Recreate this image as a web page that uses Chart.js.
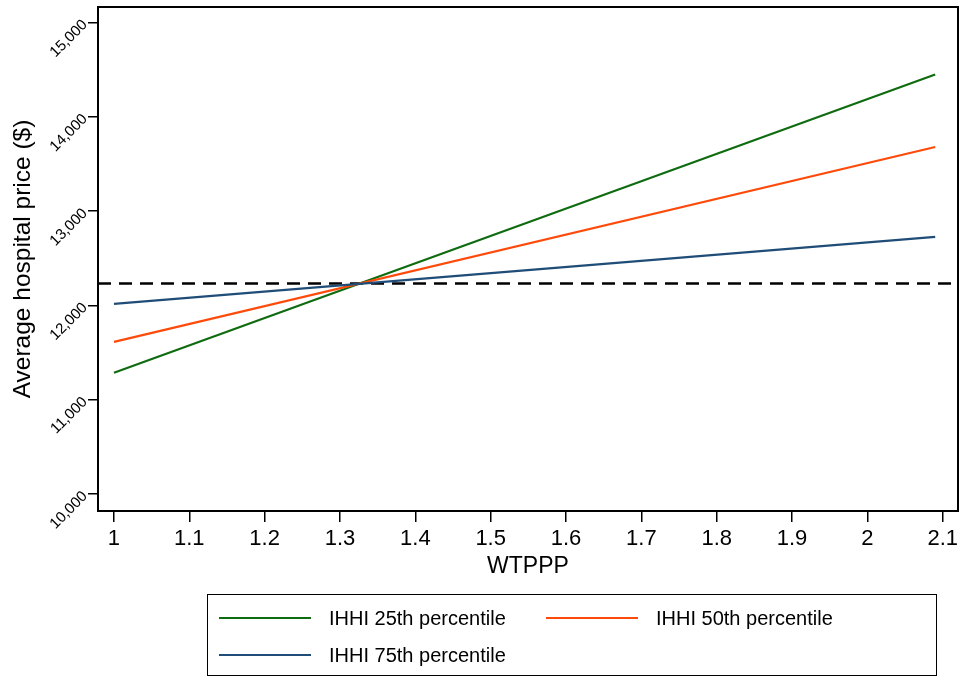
<!DOCTYPE html>
<html><head><meta charset="utf-8">
<script src="https://cdn.jsdelivr.net/npm/chart.js@4"></script>
<style>
html,body{margin:0;padding:0;background:#fff;}
#wrap{position:relative;width:963px;height:677px;overflow:hidden;}
#c{position:absolute;left:0;top:0;}
#legend{position:absolute;left:207px;top:594px;width:730px;height:82px;border:1.5px solid #000;box-sizing:border-box;font-family:'Liberation Sans',Arial,sans-serif;font-size:20px;color:#000;}
.item{position:absolute;display:flex;align-items:center;height:24px;}
.sw{width:92px;height:0;border-top:2.5px solid;margin-right:18px;}
</style></head>
<body>
<div id="wrap">
<canvas id="c" width="963" height="677"></canvas>
<div id="legend"></div>
</div>
<script>
// ---- data ----
const xValues = [1, 2.09];
const ihhi25 = [11285, 14449];
const ihhi50 = [11613, 13679];
const ihhi75 = [12016, 12726];
const refValue = 12232;
const seriesNames = ['IHHI 25th percentile', 'IHHI 50th percentile', 'IHHI 75th percentile'];
const xTickValues = [1, 1.1, 1.2, 1.3, 1.4, 1.5, 1.6, 1.7, 1.8, 1.9, 2, 2.1];
const yTickValues = [10000, 11000, 12000, 13000, 14000, 15000];
const xMin = 0.9788, xMax = 2.1203;
const yMin = 9820, yMax = 15164;

const colors = ['#0f6b0f', '#ff4a0a', '#1f4d78'];
const regular = "'Liberation Sans',Arial,sans-serif";

const toPts = (ys) => xValues.map((x, i) => ({x: x, y: ys[i]}));

const boxPlugin = {
  id: 'box',
  afterDraw(chart) {
    const a = chart.chartArea, ctx = chart.ctx;
    ctx.save();
    ctx.strokeStyle = '#000';
    ctx.lineWidth = 2;
    ctx.strokeRect(a.left, a.top, a.right - a.left, a.bottom - a.top);
    ctx.restore();
  }
};

new Chart(document.getElementById('c'), {
  type: 'line',
  data: {
    datasets: [
      {label: 'ref', data: [{x: xMin, y: refValue}, {x: xMax, y: refValue}], borderColor: '#000', borderWidth: 2.5, borderDash: [13, 8], pointRadius: 0, order: 3},
      {label: seriesNames[0], data: toPts(ihhi25), borderColor: colors[0], borderWidth: 2.2, pointRadius: 0, order: 2},
      {label: seriesNames[1], data: toPts(ihhi50), borderColor: colors[1], borderWidth: 2.2, pointRadius: 0, order: 1},
      {label: seriesNames[2], data: toPts(ihhi75), borderColor: colors[2], borderWidth: 2.2, pointRadius: 0, order: 0}
    ]
  },
  options: {
    responsive: false,
    animation: false,
    layout: {padding: {left: 0, top: 7, right: 5, bottom: 97}},
    plugins: {legend: {display: false}, tooltip: {enabled: false}},
    scales: {
      x: {
        type: 'linear', min: xMin, max: xMax,
        afterBuildTicks: s => { s.ticks = xTickValues.map(v => ({value: v})); },
        afterFit: s => { s.height = 69; s.paddingLeft = 0; s.paddingRight = 0; },
        grid: {drawOnChartArea: false, drawTicks: true, tickLength: 11, color: '#000', lineWidth: 1.5},
        border: {display: true, color: '#000', width: 2},
        ticks: {color: '#000', font: {family: regular, size: 22}, padding: 4, maxRotation: 0, minRotation: 0,
          callback: v => String(Math.round(v * 10) / 10)},
        title: {display: true, text: 'WTPPP', color: '#000', font: {family: regular, size: 23}, padding: {top: 0, bottom: 0}}
      },
      y: {
        type: 'linear', min: yMin, max: yMax,
        afterBuildTicks: s => { s.ticks = yTickValues.map(v => ({value: v})); },
        afterFit: s => { s.width = 98; s.paddingTop = 0; s.paddingBottom = 0; },
        grid: {drawOnChartArea: false, drawTicks: true, tickLength: 10, color: '#000', lineWidth: 1.5},
        border: {display: true, color: '#000', width: 2},
        ticks: {color: '#000', font: {family: regular, size: 15}, padding: 3, minRotation: 45, maxRotation: 45,
          callback: v => v.toLocaleString('en-US')},
        title: {display: true, text: 'Average hospital price ($)', color: '#000', font: {family: regular, size: 24.5}, padding: {top: 9, bottom: 0}}
      }
    }
  },
  plugins: [boxPlugin]
});

// legend (HTML)
const legendPos = [{left: 11, top: 11}, {left: 338, top: 11}, {left: 11, top: 48}];
const lg = document.getElementById('legend');
seriesNames.forEach((n, i) => {
  const d = document.createElement('div');
  d.className = 'item';
  d.style.left = legendPos[i].left + 'px';
  d.style.top = legendPos[i].top + 'px';
  const sw = document.createElement('span');
  sw.className = 'sw';
  sw.style.borderTopColor = colors[i];
  const t = document.createElement('span');
  t.textContent = n;
  d.appendChild(sw); d.appendChild(t);
  lg.appendChild(d);
});
</script>
</body></html>
